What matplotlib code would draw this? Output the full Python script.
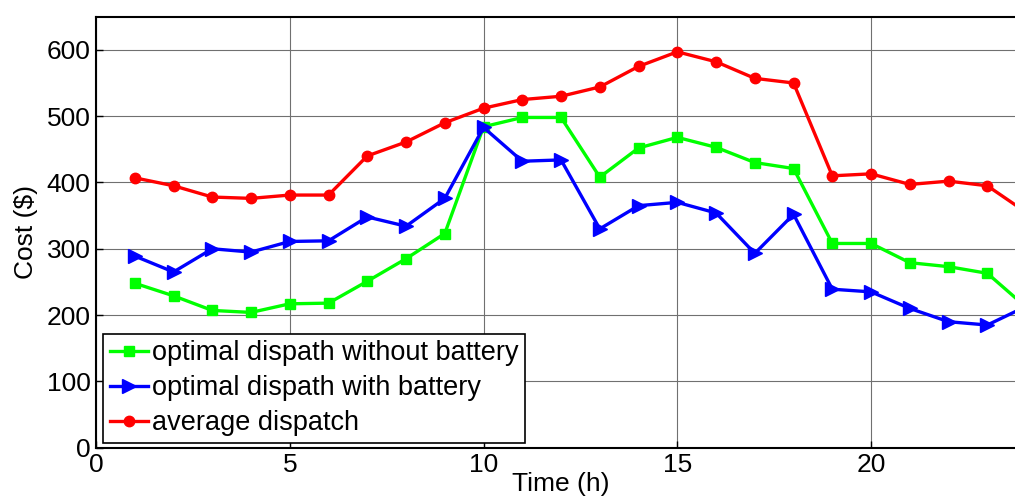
import matplotlib
matplotlib.use("Agg")
import matplotlib.pyplot as plt

plt.rcParams['font.family'] = ['Liberation Sans', 'DejaVu Sans']

hours = list(range(1, 25))
no_battery = [248, 229, 207, 204, 217, 218, 251, 285, 323, 484, 498, 498, 408, 452,
              468, 453, 430, 421, 308, 308, 279, 273, 263, 212]
with_battery = [289, 265, 300, 295, 311, 312, 348, 334, 376, 483, 432, 434, 330, 365,
                370, 354, 293, 352, 239, 235, 210, 190, 185, 213]
average = [407, 395, 378, 376, 381, 381, 440, 461, 490, 512, 525, 530, 544, 575,
           597, 582, 557, 550, 410, 413, 397, 402, 395, 355]

fig = plt.figure(figsize=(10.15, 5.01), dpi=100)
ax = fig.add_axes([0.0946, 0.1064, 0.9163, 0.8603])

ax.plot(hours, no_battery, color='#00ff00', marker='s', markersize=7.5, linewidth=2.4,
        label='optimal dispath without battery')
ax.plot(hours, with_battery, color='#0000ff', marker='>', markersize=9.5, linewidth=2.4,
        label='optimal dispath with battery')
ax.plot(hours, average, color='#ff0000', marker='o', markersize=7.5, linewidth=2.4,
        label='average dispatch')

ax.set_xlim(0, 24)
ax.set_ylim(0, 650)
ax.set_xticks([0, 5, 10, 15, 20])
ax.set_yticks([0, 100, 200, 300, 400, 500, 600])
ax.grid(True, color='#707070', linewidth=0.8)
ax.tick_params(direction='in', labelsize=19, length=5, width=1, pad=4)
for s in ax.spines.values():
    s.set_linewidth(1.5)

ax.set_xlabel('Time (h)', fontsize=19, labelpad=-4)
ax.set_ylabel('Cost ($)', fontsize=19, labelpad=6)

leg = ax.legend(loc='lower left', bbox_to_anchor=(0.0075, 0.011), borderaxespad=0,
                fontsize=19.5, fancybox=False, framealpha=1, edgecolor='black',
                handlelength=1.4, handletextpad=0.15, borderpad=0.25, labelspacing=0.33)
leg.get_frame().set_linewidth(1.2)

plt.savefig('out.png', dpi=100)
